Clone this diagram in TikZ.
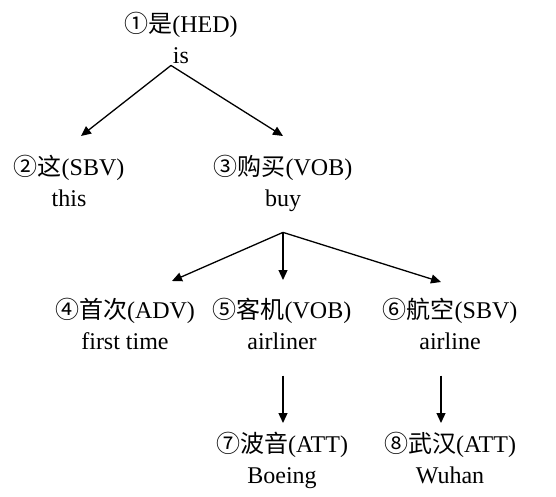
\documentclass[tikz,border=0pt]{standalone}
\usepackage{fontspec}
\setmainfont{Liberation Serif}
\newfontfamily\cjk{Noto Sans CJK SC}
\usetikzlibrary{arrows.meta}
\tikzset{>={Triangle[length=10pt,width=9pt]},
	word/.style={% two lines: Chinese word with relation, English gloss
		align=center,
		inner sep=0pt,
		anchor=north,
		font=\fontsize{24}{30.5}\selectfont
	},
	dep/.style={
		->,
		line width=1.3pt
	}
}
\newcommand*{\zh}[1]{{\cjk #1}}

\begin{document}
\begin{tikzpicture}[x=1pt,y=-1pt]
		\useasboundingbox (0,0) rectangle (556,497);
		\node[word] (1) at (181,12) {\zh{①是}(HED)\\is};
		\node[word] (2) at (69,155) {\zh{②这}(SBV)\\this};
		\node[word] (3) at (283,155) {\zh{③购买}(VOB)\\buy};
		\node[word] (4) at (125,298) {\zh{④首次}(ADV)\\first time};
		\node[word] (5) at (282,298) {\zh{⑤客机}(VOB)\\airliner};
		\node[word] (6) at (450,298) {\zh{⑥航空}(SBV)\\airline};
		\node[word] (7) at (282,432) {\zh{⑦波音}(ATT)\\Boeing};
		\node[word] (8) at (450,432) {\zh{⑧武汉}(ATT)\\Wuhan};
		
		% head to its dependents
		\draw[dep] ([xshift=-10pt,yshift=-2pt]1.south) -- ([xshift=12pt,yshift=19pt]2.north);
		\draw[dep] ([xshift=-10pt,yshift=-2pt]1.south) -- ([yshift=19pt]3.north);
		
		\draw[dep] ([yshift=-21pt]3.south) -- ([xshift=47pt,yshift=17pt]4.north);
		\draw[dep] ([yshift=-21pt]3.south) -- ([xshift=1pt,yshift=18pt]5.north);
		\draw[dep] ([yshift=-21pt]3.south) -- ([xshift=-9pt,yshift=16pt]6.north);
		
		\draw[dep] ([xshift=1pt,yshift=-26pt]5.south) -- ([xshift=1pt,yshift=9pt]7.north);
		\draw[dep] ([xshift=-9pt,yshift=-26pt]6.south) -- ([xshift=-9pt,yshift=9pt]8.north);
	\end{tikzpicture}
\end{document}
